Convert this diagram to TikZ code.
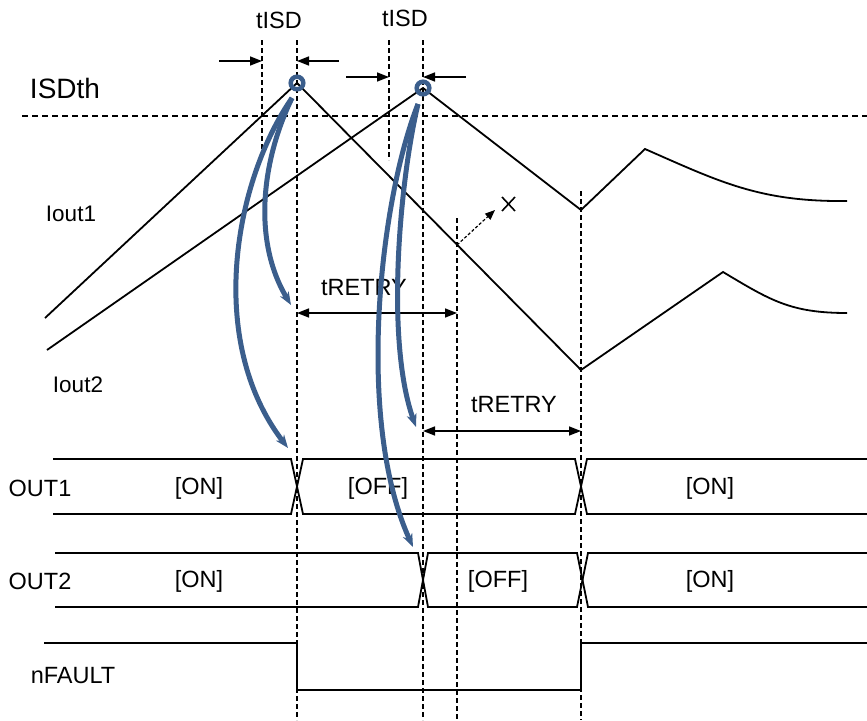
\documentclass[tikz,border=0pt]{standalone}
\usepackage{fontspec}
\setmainfont{Liberation Sans}
\usetikzlibrary{arrows.meta}
\definecolor{flowblue}{RGB}{59,94,140}
\tikzset{every picture/.style={line width=1.8pt}}

\begin{document}
\begin{tikzpicture}[x=1pt,y=1pt,yscale=-1,xscale=1,
	biglbl/.style={inner sep=0pt,font=\fontsize{28}{32}\selectfont},
	lbl/.style={inner sep=0pt,font=\fontsize{23.5}{28}\selectfont},
	curlbl/.style={inner sep=0pt,font=\fontsize{22.5}{26}\selectfont},
	guide/.style={line width=1.5pt,dash pattern=on 5pt off 3pt},
	dimarrow/.style={line width=1.5pt,-{Triangle[length=12pt,width=9pt]}},
	dimboth/.style={line width=1.5pt,{Triangle[length=12pt,width=9pt]}-{Triangle[length=12pt,width=9pt]}},
	flow/.style={color=flowblue,line width=5pt,-{Stealth[length=13pt,width=10pt,inset=4pt]}}]
				\useasboundingbox (0,0) rectangle (867,720);
				% Key points
				\coordinate (pk1) at (297,83);
				\coordinate (pk2) at (423,88);
				\coordinate (st1) at (292,98);
				\coordinate (st2) at (418,104);
				%Straight Lines: threshold
				\draw [line width=1.5pt,dash pattern=on 6pt off 4pt] (22,116) -- (867,116);
				%Straight Lines: guides
				\draw [guide] (262,40) -- (262,157);
				\draw [guide] (297,40) -- (297,720);
				\draw [guide] (389,40) -- (389,160);
				\draw [guide] (423,40) -- (423,720);
				\draw [guide] (457,218) -- (457,720);
				\draw [guide] (581,191) -- (581,720);
				%Curve Lines: Iout
				\draw (45,318) -- (pk1) -- (581,370) -- (723,272) .. controls (770,300) and (790,313) .. (847,313);
				\draw (47,350) -- (pk2) -- (581,210) -- (645,149) .. controls (720,182) and (760,202) .. (847,201);
				%Shape: Circle
				\draw [flowblue,line width=4.5pt] (pk1) circle [radius=6.3pt];
				\draw [flowblue,line width=4.5pt] (pk2) circle [radius=6.3pt];
				%Straight Lines: tISD
				\draw [dimarrow] (219,61) -- (262,61);
				\draw [dimarrow] (339,61) -- (297,61);
				\draw [dimarrow] (346,77) -- (389,77);
				\draw [dimarrow] (466,77) -- (423,77);
				%Straight Lines: tRETRY
				\draw [dimboth] (297,313) -- (457,313);
				\draw [dimboth] (423,431) -- (581,431);
				%Straight Lines: retry point
				\coordinate (rp) at (457,245);
				\coordinate (rq) at (495,210);
				\draw [line width=1.2pt,dash pattern=on 3pt off 2pt,-{Triangle[length=10pt,width=8pt]}] (rp) -- (rq);
				\draw [line width=1.6pt] (502,197) -- (515,211) (502,211) -- (515,197);
				%Straight Lines: OUT1
				\draw (53,459) -- (291,459) -- (303,514) -- (575,514) -- (587,459) -- (867,459);
				\draw (53,514) -- (291,514) -- (303,459) -- (575,459) -- (587,514) -- (867,514);
				%Straight Lines: OUT2
				\draw (55,553) -- (418,553) -- (428,607) -- (577,607) -- (588,553) -- (867,553);
				\draw (55,607) -- (418,607) -- (428,553) -- (577,553) -- (588,607) -- (867,607);
				%Straight Lines: nFAULT
				\draw (44,643) -- (297,643) -- (297,690) -- (581,690) -- (581,643) -- (867,643);
				% Text Node
				\node [biglbl] (isdth) at (65,88) {ISDth};
				\node [lbl] (tisd1) at (279,20) {tISD};
				\node [lbl] (tisd2) at (405,18) {tISD};
				\node [curlbl] (iout1) at (71,214) {Iout1};
				\node [curlbl] (iout2) at (78,385) {Iout2};
				\node [lbl] (tretry1) at (364,288) {tRETRY};
				\node [lbl] (tretry2) at (514,405) {tRETRY};
				\node [lbl] (out1) at (40,488) {OUT1};
				\node [lbl] (out2) at (40,581) {OUT2};
				\node [lbl] (nfault) at (73,676) {nFAULT};
				\node [lbl] (on1a) at (199,488) {[ON]};
				\node [lbl] (off1) at (378,488) {[OFF]};
				\node [lbl] (on1b) at (710,488) {[ON]};
				\node [lbl] (on2a) at (199,581) {[ON]};
				\node [lbl] (off2) at (498,581) {[OFF]};
				\node [lbl] (on2b) at (710,581) {[ON]};
				%Curve Lines: flow arrows
				\draw [flow] (st1) .. controls (262,160) and (252,240) .. (291,305);
				\draw [flow] (st1) .. controls (235,180) and (205,340) .. (288,448);
				\draw [flow] (st2) .. controls (400,180) and (385,340) .. (416,427);
				\draw [flow] (st2) .. controls (380,200) and (355,420) .. (413,547);
\end{tikzpicture}
\end{document}
